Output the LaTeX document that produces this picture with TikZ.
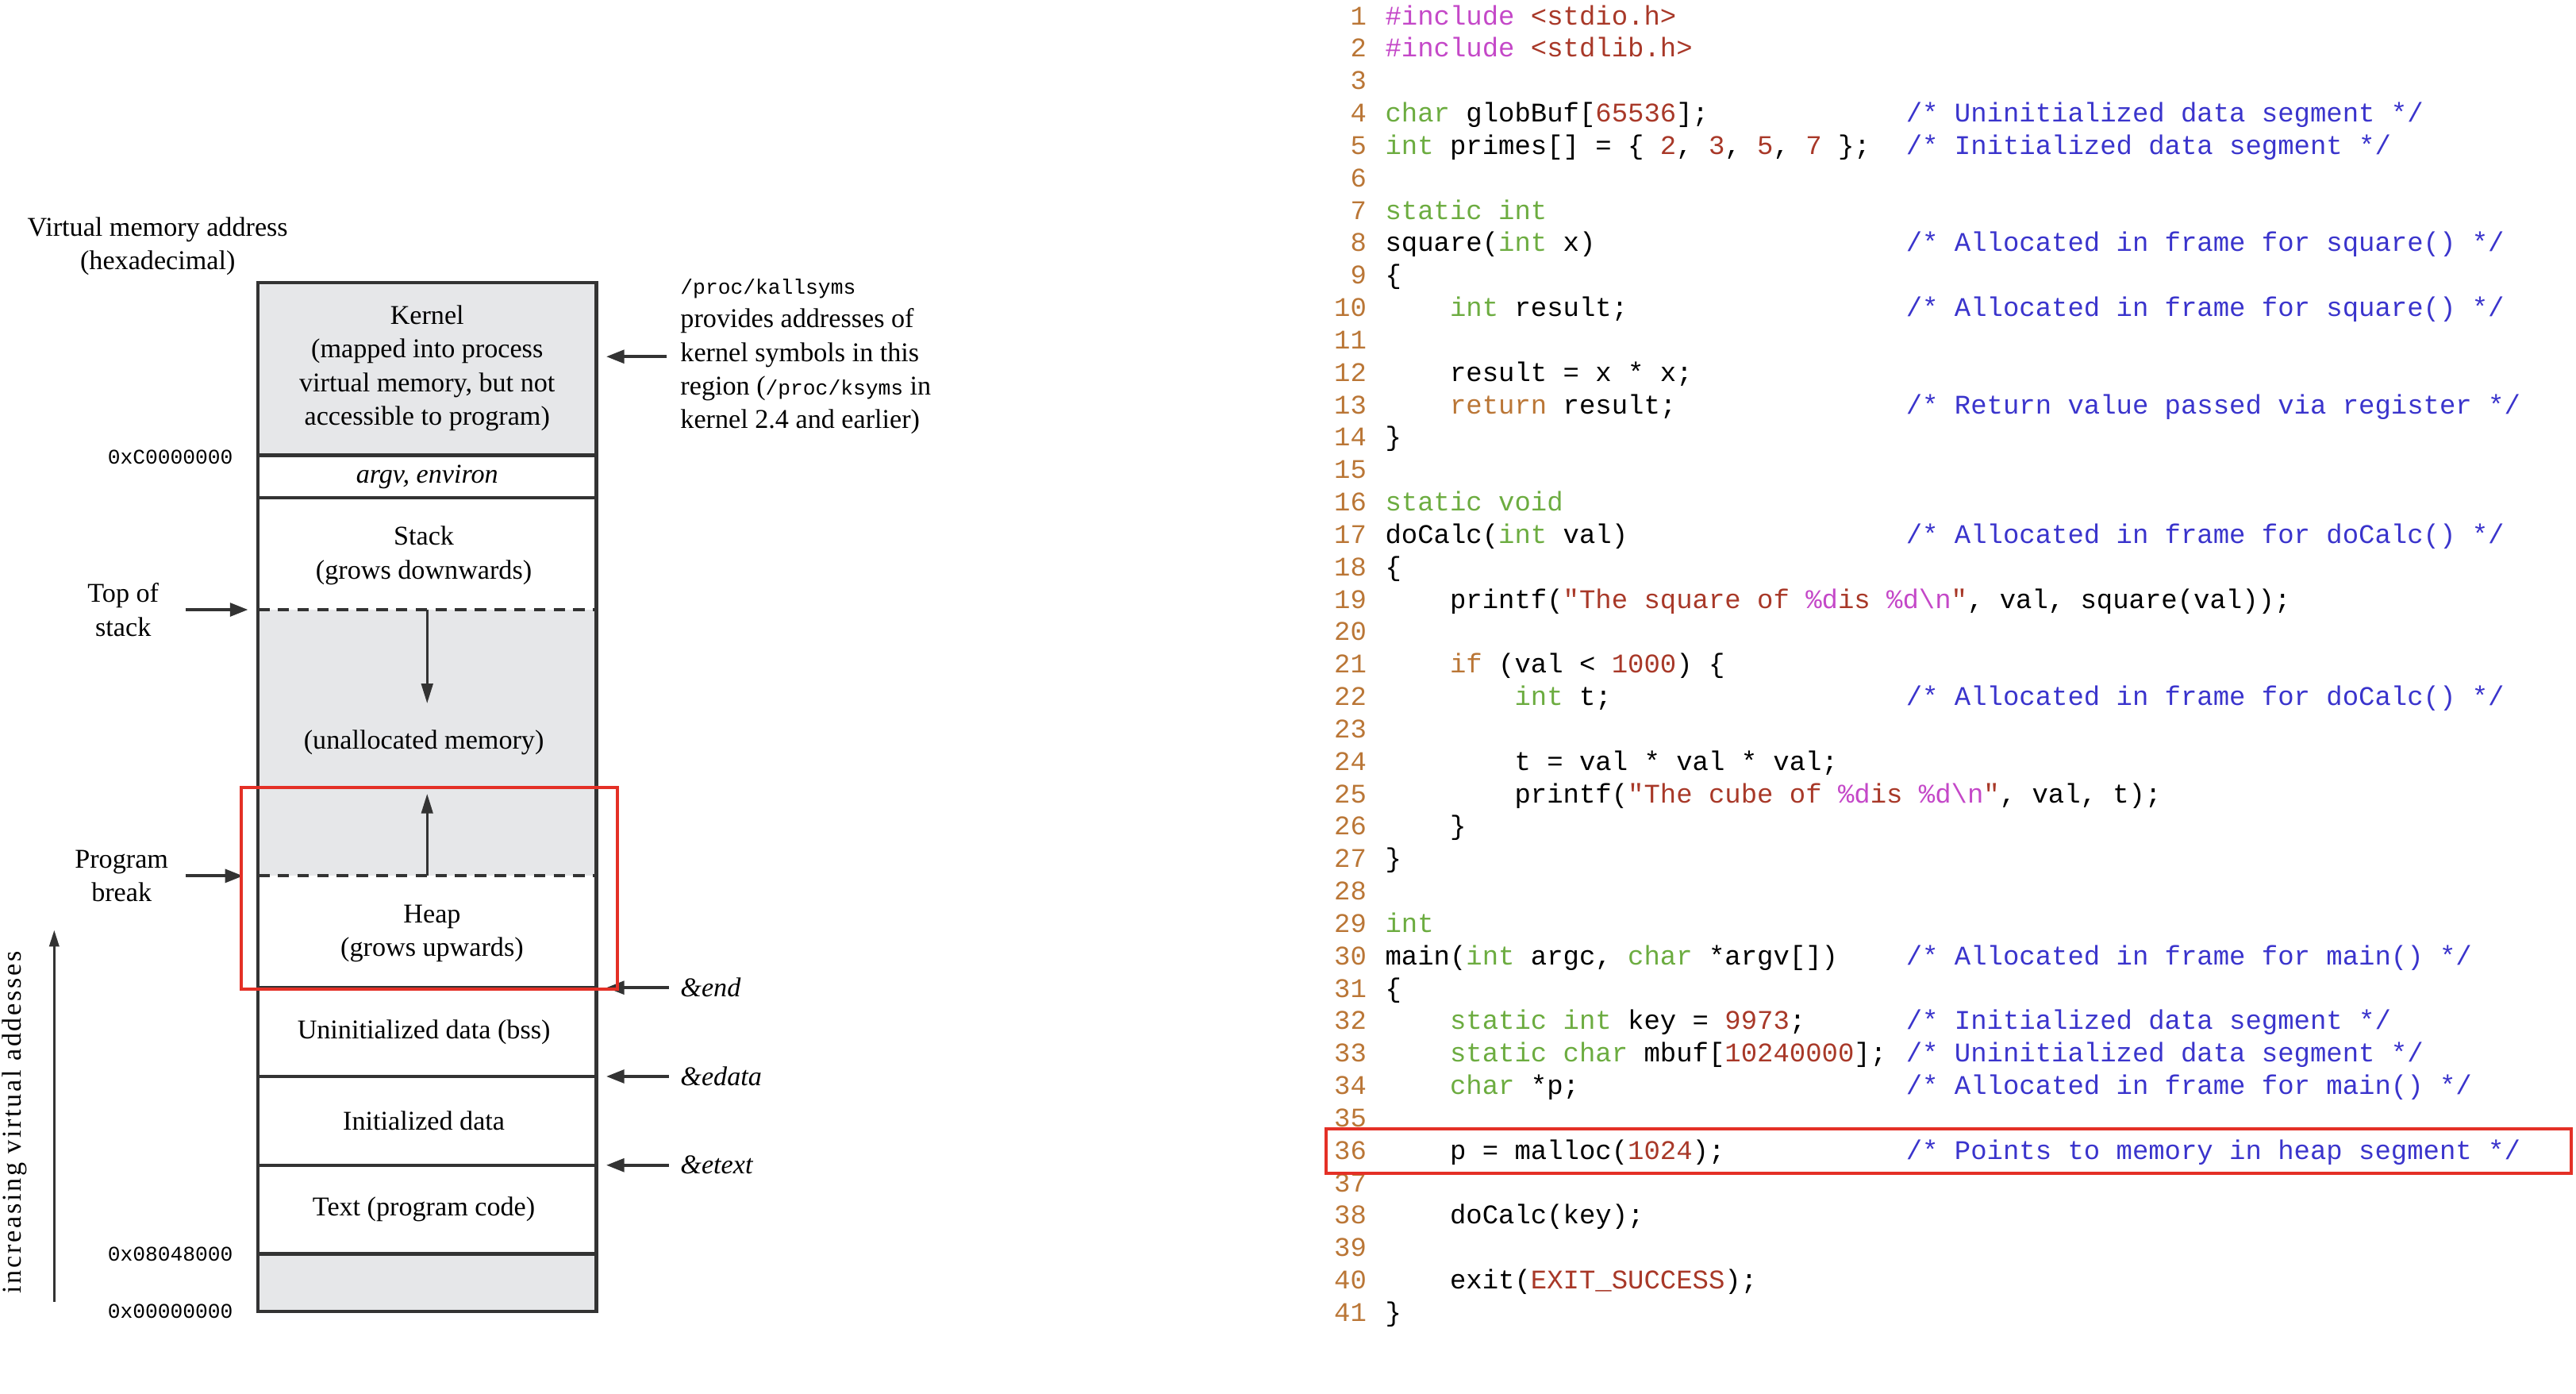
\documentclass[tikz,border=0pt]{standalone}
\usepackage{fontspec}
\setmainfont{Liberation Serif}
\newfontfamily\codefont{Liberation Mono}
\usetikzlibrary{arrows.meta,positioning}
\definecolor{memgrey}{RGB}{230,231,233}
\definecolor{boxred}{RGB}{228,48,38}
\definecolor{kwgreen}{RGB}{108,172,64}
\definecolor{strred}{RGB}{168,56,40}
\definecolor{ppurple}{RGB}{196,72,200}
\definecolor{ctlorange}{RGB}{186,118,54}
\definecolor{cmblue}{RGB}{58,52,204}
\newcommand{\kw}[1]{\textcolor{kwgreen}{#1}}
\newcommand{\strg}[1]{\textcolor{strred}{#1}}
\newcommand{\pp}[1]{\textcolor{ppurple}{#1}}
\newcommand{\ctl}[1]{\textcolor{ctlorange}{#1}}
% one line of code: number, text
\newcommand{\codeline}[2]{%
  \node[lnum] (ln#1) at (832,{15+(#1-1)*19.725}) {#1};
  \node[code] (cd#1) at (843,{15+(#1-1)*19.725}) {#2};}
\newcommand{\cmt}[2]{%
  \node[code,text=cmblue] (cm#1) at (1160,{15+(#1-1)*19.725}) {#2};}
\tikzset{
  seglabel/.style={font=\fontsize{16.5}{20.5}\selectfont,align=center,inner sep=0pt},
  hex/.style={font=\codefont\fontsize{12.7}{15}\selectfont,anchor=east,inner sep=0pt},
  lnum/.style={font=\codefont\fontsize{16.4}{20}\selectfont,text=ctlorange,anchor=base east,inner sep=0pt},
  code/.style={font=\codefont\fontsize{16.4}{20}\selectfont,anchor=base west,inner sep=0pt},
  ptr/.style={-{Triangle[length=11pt,width=8pt]},line width=2pt,draw=black!80},
  wall/.style={line width=2pt,draw=black!80},
  brk/.style={line width=2pt,draw=black!80,dash pattern=on 7pt off 5pt},
  redbox/.style={line width=2pt,draw=boxred}
}
\begin{document}
\begin{tikzpicture}[x=1pt,y=-1pt]
\useasboundingbox (0,0) rectangle (1568,848);

% memory layout column
\fill[memgrey] (157,172) rectangle (363,277);
\fill[memgrey] (157,371) rectangle (363,533);
\fill[memgrey] (157,763) rectangle (363,798);
\draw[wall] (157,172) rectangle (363,798);
\foreach \yy in {277,303,601,655,709,763}
  \draw[wall] (157,\yy) -- (363,\yy);
\draw[brk] (157,371) -- (363,371);
\draw[brk] (157,533) -- (363,533);

% segment labels
\node[seglabel] (vmaddr) at (96,150) {Virtual memory address\\(hexadecimal)};
\node[seglabel] (kernel) at (260,224) {Kernel\\(mapped into process\\virtual memory, but not\\accessible to program)};
\node[seglabel,font=\fontsize{16.5}{20}\selectfont\itshape] (argv) at (260,290) {argv, environ};
\node[seglabel] (stack) at (258,338) {Stack\\(grows downwards)};
\node[seglabel] (unalloc) at (258,452) {(unallocated memory)};
\node[seglabel] (heap) at (263,568) {Heap\\(grows upwards)};
\node[seglabel] (bss) at (258,628) {Uninitialized data (bss)};
\node[seglabel] (init) at (258,682) {Initialized data};
\node[seglabel] (text) at (258,736) {Text (program code)};

% growth arrows
\coordinate (stacktop) at (260,371);
\coordinate (stackgrow) at (260,428);
\coordinate (heaptop) at (260,533);
\coordinate (heapgrow) at (260,483);
\draw[-{Triangle[length=12pt,width=7pt]},line width=1.5pt,draw=black!80] (stacktop) -- (stackgrow);
\draw[-{Triangle[length=12pt,width=7pt]},line width=1.5pt,draw=black!80] (heaptop) -- (heapgrow);

% addresses
\node[hex] (hexC) at (142,278) {0xC0000000};
\node[hex] (hex08) at (142,763) {0x08048000};
\node[hex] (hex00) at (142,798) {0x00000000};

% left pointers
\node[seglabel] (tos) at (75,371) {Top of\\stack};
\node[seglabel] (pbrk) at (74,533) {Program\\break};
\coordinate (tosL) at (113,371);
\coordinate (tosR) at (151,371);
\coordinate (pbrkL) at (113,533);
\coordinate (pbrkR) at (148,533);
\draw[ptr] (tosL) -- (tosR);
\draw[ptr] (pbrkL) -- (pbrkR);

% right pointers
\node[seglabel,anchor=west,align=left,font=\fontsize{16.5}{20.4}\selectfont] (ksyms) at (414,217)
  {{\codefont\fontsize{12.7}{15}\selectfont /proc/kallsyms}\\provides addresses of\\kernel symbols in this\\region ({\codefont\fontsize{12.7}{15}\selectfont /proc/ksyms} in\\kernel 2.4 and earlier)};
\node[seglabel,anchor=west,font=\fontsize{16.5}{20}\selectfont\itshape] (endsym) at (414,601) {\&end};
\node[seglabel,anchor=west,font=\fontsize{16.5}{20}\selectfont\itshape] (edatasym) at (414,655) {\&edata};
\node[seglabel,anchor=west,font=\fontsize{16.5}{20}\selectfont\itshape] (etextsym) at (414,709) {\&etext};
\coordinate (kR) at (406,217);
\coordinate (kL) at (369,217);
\draw[ptr] (kR) -- (kL);
\foreach \nm/\yy in {end/601,edata/655,etext/709}{
  \coordinate (\nm R) at (407,\yy);
  \coordinate (\nm L) at (369,\yy);
  \draw[ptr] (\nm R) -- (\nm L);
}

% increasing addresses
\node[seglabel,rotate=90,font=\fontsize{16.5}{20}\selectfont\addfontfeature{LetterSpace=8}] (incr) at (9,683) {increasing virtual addesses};
\coordinate (incrlo) at (33,792);
\coordinate (incrhi) at (33,566);
\draw[-{Triangle[length=10pt,width=6pt]},line width=1.2pt,draw=black!80] (incrlo) -- (incrhi);

% highlighted heap
\draw[redbox] (147,479) rectangle (376,602);

% source code
\codeline{1}{\pp{\#include} \strg{<stdio.h>}}
\codeline{2}{\pp{\#include} \strg{<stdlib.h>}}
\codeline{3}{}
\codeline{4}{\kw{char} globBuf[\strg{65536}];}
\codeline{5}{\kw{int} primes[] = \{ \strg{2}, \strg{3}, \strg{5}, \strg{7} \};}
\codeline{6}{}
\codeline{7}{\kw{static int}}
\codeline{8}{square(\kw{int} x)}
\codeline{9}{\{}
\codeline{10}{\ \ \ \ \kw{int} result;}
\codeline{11}{}
\codeline{12}{\ \ \ \ result = x * x;}
\codeline{13}{\ \ \ \ \ctl{return} result;}
\codeline{14}{\}}
\codeline{15}{}
\codeline{16}{\kw{static void}}
\codeline{17}{doCalc(\kw{int} val)}
\codeline{18}{\{}
\codeline{19}{\ \ \ \ printf(\strg{"The square of }\pp{\%d}\strg{ is }\pp{\%d\textbackslash n}\strg{"}, val, square(val));}
\codeline{20}{}
\codeline{21}{\ \ \ \ \ctl{if} (val < \strg{1000}) \{}
\codeline{22}{\ \ \ \ \ \ \ \ \kw{int} t;}
\codeline{23}{}
\codeline{24}{\ \ \ \ \ \ \ \ t = val * val * val;}
\codeline{25}{\ \ \ \ \ \ \ \ printf(\strg{"The cube of }\pp{\%d}\strg{ is }\pp{\%d\textbackslash n}\strg{"}, val, t);}
\codeline{26}{\ \ \ \ \}}
\codeline{27}{\}}
\codeline{28}{}
\codeline{29}{\kw{int}}
\codeline{30}{main(\kw{int} argc, \kw{char} *argv[])}
\codeline{31}{\{}
\codeline{32}{\ \ \ \ \kw{static int} key = \strg{9973};}
\codeline{33}{\ \ \ \ \kw{static char} mbuf[\strg{10240000}];}
\codeline{34}{\ \ \ \ \kw{char} *p;}
\codeline{35}{}
\codeline{36}{\ \ \ \ p = malloc(\strg{1024});}
\codeline{37}{}
\codeline{38}{\ \ \ \ doCalc(key);}
\codeline{39}{}
\codeline{40}{\ \ \ \ exit(\strg{EXIT\_SUCCESS});}
\codeline{41}{\}}

% comments
\cmt{4}{/* Uninitialized data segment */}
\cmt{5}{/* Initialized data segment */}
\cmt{8}{/* Allocated in frame for square() */}
\cmt{10}{/* Allocated in frame for square() */}
\cmt{13}{/* Return value passed via register */}
\cmt{17}{/* Allocated in frame for doCalc() */}
\cmt{22}{/* Allocated in frame for doCalc() */}
\cmt{30}{/* Allocated in frame for main() */}
\cmt{32}{/* Initialized data segment */}
\cmt{33}{/* Uninitialized data segment */}
\cmt{34}{/* Allocated in frame for main() */}
\cmt{36}{/* Points to memory in heap segment */}

% highlighted malloc line
\draw[redbox] (807,687) rectangle (1565,714);
\end{tikzpicture}
\end{document}
